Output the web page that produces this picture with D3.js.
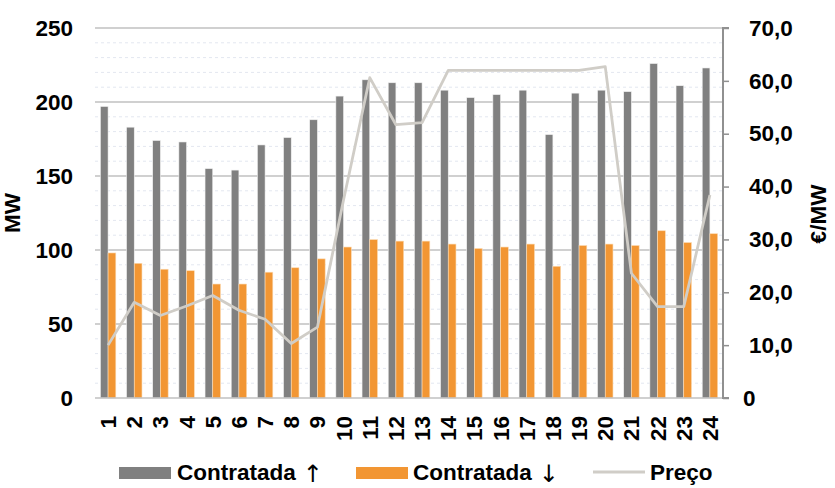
<!DOCTYPE html>
<html><head><meta charset="utf-8">
<script src="https://cdn.jsdelivr.net/npm/d3@7"></script>
<style>body{margin:0;background:#fff}svg{display:block}text{font-family:"Liberation Sans",Arial,sans-serif;font-weight:bold;fill:#000}</style>
</head><body>
<svg id="c" width="835" height="488"></svg>
<script>
const hours = ["1","2","3","4","5","6","7","8","9","10","11","12","13","14","15","16","17","18","19","20","21","22","23","24"];
const contratadaUp = [197,183,174,173,155,154,171,176,188,204,215,213,213,208,203,205,208,178,206,208,207,226,211,223];
const contratadaDown = [98,91,87,86,77,77,85,88,94,102,107,106,106,104,101,102,104,89,103,104,103,113,105,111];
const preco = [10.0,18.1,15.6,17.4,19.4,16.6,14.9,10.3,13.4,37.5,60.6,51.7,52.1,62.0,62.0,62.0,62.0,62.0,62.0,62.7,23.6,17.3,17.3,38.4];
const leftTicks = [0,50,100,150,200,250];
const rightTicks = [0,10,20,30,40,50,60,70];
const legendLabels = ["Contratada","Contratada","Pre\u00e7o"];
const legendArrows = ["\u2191","\u2193",""];

const svg = d3.select("#c");
const L = 95, R = 723, T = 28, B = 398;
const x = d3.scaleBand().domain(hours).range([L, R]).padding(0);
const y = d3.scaleLinear().domain([0,250]).range([B, T]);
const y2 = d3.scaleLinear().domain([0,70]).range([B, T]);
const bw = x.bandwidth() * 0.295;

// minor gridlines
const minor = d3.range(10, 250, 10).filter(v => v % 50 !== 0);
svg.append("g").selectAll("line").data(minor).join("line")
  .attr("x1", L).attr("x2", R).attr("y1", d => y(d)).attr("y2", d => y(d))
  .attr("stroke", "#e3e7f0").attr("stroke-width", 1).attr("stroke-dasharray", "3,3");
// major gridlines
svg.append("g").selectAll("line").data(leftTicks.filter(d => d > 0)).join("line")
  .attr("x1", L).attr("x2", R).attr("y1", d => y(d)).attr("y2", d => y(d))
  .attr("stroke", "#c0c0c0").attr("stroke-width", 1.5);

// left axis labels
const yAxis = d3.axisLeft(y).tickValues(leftTicks).tickSize(0).tickPadding(0);
const gl = svg.append("g").attr("transform", `translate(73,0)`).call(yAxis);
gl.select(".domain").remove();
gl.selectAll("text").attr("font-size", 22.5).attr("font-family", "Liberation Sans, Arial").attr("font-weight", "bold").attr("fill", "#000");

// bars
const g = svg.append("g");
g.selectAll("rect.up").data(contratadaUp).join("rect").attr("class", "up")
  .attr("x", (d, i) => x(hours[i]) + x.bandwidth()/2 - bw)
  .attr("width", bw).attr("y", d => y(d)).attr("height", d => B - y(d))
  .attr("fill", "#808080").attr("stroke", "#f2f2f2").attr("stroke-width", 0.6);
g.selectAll("rect.dn").data(contratadaDown).join("rect").attr("class", "dn")
  .attr("x", (d, i) => x(hours[i]) + x.bandwidth()/2)
  .attr("width", bw).attr("y", d => y(d)).attr("height", d => B - y(d))
  .attr("fill", "#f29633").attr("stroke", "#fbd9b0").attr("stroke-width", 0.6);

// baseline
svg.append("line").attr("x1", L).attr("x2", R).attr("y1", B).attr("y2", B)
  .attr("stroke", "#c0c0c0").attr("stroke-width", 1.5);

// price line
const line = d3.line().x((d, i) => x(hours[i]) + x.bandwidth()/2).y(d => y2(d));
svg.append("path").datum(preco).attr("d", line)
  .attr("fill", "none").attr("stroke", "#d0cdc7").attr("stroke-width", 2.8).attr("stroke-linejoin", "round");

// right axis
const y2Axis = d3.axisRight(y2).tickValues(rightTicks).tickSize(6).tickPadding(20)
  .tickFormat(d => d === 0 ? "0" : d.toFixed(1).replace(".", ","));
const gr = svg.append("g").attr("transform", `translate(${R},0)`).call(y2Axis);
gr.select(".domain").attr("stroke", "#909090").attr("stroke-width", 2).attr("d", `M6,${T}H0V${B}H6`);
gr.selectAll(".tick line").attr("stroke", "#909090").attr("stroke-width", 1.5);
gr.selectAll("text").attr("font-size", 22.5).attr("font-family", "Liberation Sans, Arial").attr("font-weight", "bold").attr("fill", "#000")
  .attr("x", d => d === 0 ? 20 : 26);

// x labels
svg.append("g").selectAll("text").data(hours).join("text")
  .attr("transform", d => `translate(${x(d) + x.bandwidth()/2 + 8},416) rotate(-90)`)
  .attr("text-anchor", "end").attr("font-size", 22.5).text(d => d);

// axis titles
svg.append("text").attr("transform", "translate(20,213) rotate(-90)").attr("text-anchor", "middle")
  .attr("font-size", 22.5).text("MW");
svg.append("text").attr("transform", "translate(826,214) rotate(-90)").attr("text-anchor", "middle")
  .attr("font-size", 22.5).text("\u20ac/MW");

// legend
const leg = [
  {x: 119, type: "rect", color: "#808080", tx: 177},
  {x: 356, type: "rect", color: "#f29633", tx: 413},
  {x: 593, type: "line", color: "#d0cdc7", tx: 650}
];
leg.forEach((l, i) => {
  if (l.type === "rect") svg.append("rect").attr("x", l.x).attr("y", 467).attr("width", 52).attr("height", 12).attr("fill", l.color);
  else svg.append("line").attr("x1", l.x).attr("x2", l.x + 52).attr("y1", 472).attr("y2", 472).attr("stroke", l.color).attr("stroke-width", 3);
  const t = svg.append("text").attr("x", l.tx).attr("y", 480).attr("font-size", 22.5).text(legendLabels[i]);
  if (legendArrows[i]) t.append("tspan").attr("dx", 7).attr("font-family", "DejaVu Sans").attr("font-weight", "normal")
    .attr("font-size", 24).attr("dy", 2).style("fill", "#000").text(legendArrows[i]);
});
</script>
</body></html>
